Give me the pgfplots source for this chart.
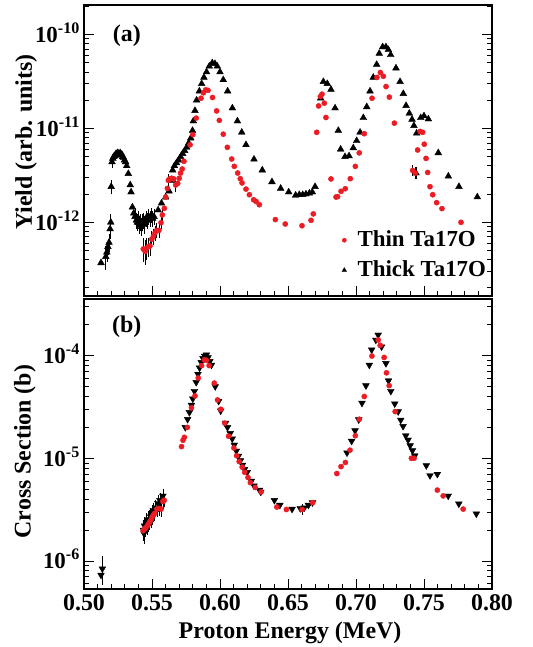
\documentclass[border=0pt]{standalone}
\usepackage{fontspec}
\setmainfont{Liberation Serif}
\usepackage{pgfplots}
\pgfplotsset{compat=1.18}
\definecolor{myred}{RGB}{236,28,36}
\begin{document}
\begin{tikzpicture}
% ---------------- panel (a) ----------------
\begin{axis}[scale only axis, width=408bp, height=291bp,
  at={(84bp,351bp)}, anchor=south west,
  xmin=0.5, xmax=0.8, ymode=log,
  ymin=1.64e-13, ymax=2.07e-10,
  axis line style={line width=1.5bp},
  major tick length=10bp, minor tick length=5bp,
  tick style={black, line width=0.9bp},
  xtick={0.5,0.55,0.6,0.65,0.7,0.75,0.8},
  minor x tick num=4,
  xtick pos=left, ytick pos=both, tick align=inside,
  ticklabel style={font=\fontsize{23}{23}\selectfont\bfseries, inner sep=1bp},
  yticklabel style={anchor=base east, yshift=-7.8bp, xshift=-3bp},
  ytick={1e-12,1e-11,1e-10},
  yticklabels={10\textsuperscript{-12},10\textsuperscript{-11},10\textsuperscript{-10}},
  minor ytick={2e-13,3e-13,4e-13,5e-13,6e-13,7e-13,8e-13,9e-13,2e-12,3e-12,4e-12,5e-12,6e-12,7e-12,8e-12,9e-12,2e-11,3e-11,4e-11,5e-11,6e-11,7e-11,8e-11,9e-11,2e-10},
  xticklabels={},
  ylabel={Yield (arb. units)},
  ylabel style={font=\fontsize{24}{24}\selectfont\bfseries, at={(axis description cs:-0.142,0.529)}, anchor=center, rotate=0},
  legend style={at={(rel axis cs:0.632,0.237)}, anchor=north west, draw=none, fill=none, inner sep=0pt,
    font=\fontsize{23}{23}\selectfont\bfseries, row sep=4bp, column sep=9bp,
    nodes={inner sep=2bp, text height=17bp, text depth=5bp}},
  legend cell align=left, reverse legend,
]
\addplot[only marks, mark=triangle*, mark size=3.9bp, color=black, mark options={fill=black},
  legend image post style={mark size=2.6bp}] coordinates {
(0.5125,3.7e-13)
(0.5212,4.8e-12)(0.5218,5.0e-12)(0.5224,5.1e-12)(0.5230,5.2e-12)(0.5236,5.4e-12)(0.5242,5.3e-12)
(0.5248,5.5e-12)(0.5254,5.4e-12)(0.5260,5.3e-12)(0.5266,5.5e-12)(0.5272,5.2e-12)(0.5278,5.3e-12)
(0.5284,5.0e-12)(0.5290,4.9e-12)(0.5298,4.6e-12)(0.5306,4.4e-12)(0.5314,4.0e-12)(0.5326,3.3e-12)
(0.5340,2.5e-12)(0.5346,2.1e-12)(0.5356,1.45e-12)(0.5366,1.25e-12)
(0.5545,1.35e-12)(0.5570,1.6e-12)(0.5600,1.85e-12)(0.5625,2.15e-12)(0.5645,2.8e-12)(0.5652,3.6e-12)
(0.5665,4.0e-12)(0.5680,4.3e-12)(0.5695,4.6e-12)(0.5710,5.0e-12)(0.5725,5.4e-12)(0.5740,5.8e-12)
(0.5755,6.3e-12)(0.5770,7.0e-12)(0.5785,7.9e-12)(0.5798,9.5e-12)(0.5804,1.2e-11)(0.5816,1.55e-11)
(0.5828,2.0e-11)(0.5848,2.5e-11)(0.5865,3.0e-11)(0.5882,3.5e-11)(0.5901,4.0e-11)(0.5921,4.6e-11)
(0.5943,5.0e-11)(0.5963,4.9e-11)(0.5980,4.6e-11)(0.6000,4.0e-11)(0.6024,3.3e-11)(0.6056,2.5e-11)
(0.6091,1.65e-11)(0.6128,1.2e-11)(0.6160,9.1e-12)(0.6191,6.7e-12)(0.6250,4.7e-12)(0.6311,3.6e-12)
(0.6382,2.7e-12)(0.6446,2.3e-12)(0.6505,2.1e-12)(0.6556,1.94e-12)(0.6583,1.97e-12)(0.6608,1.97e-12)
(0.6632,2.0e-12)(0.6657,2.04e-12)(0.6679,2.1e-12)(0.6699,2.4e-12)
(0.6740,2.1e-11)(0.6760,3.15e-11)(0.6789,3.0e-11)(0.6816,2.6e-11)(0.6846,1.65e-11)(0.6870,9.5e-12)
(0.6887,6.0e-12)(0.6919,5.0e-12)(0.6949,5.1e-12)(0.6980,6.2e-12)(0.7005,7.4e-12)(0.7030,9.1e-12)
(0.7054,1.3e-11)(0.7079,1.7e-11)(0.7103,2.5e-11)(0.7127,3.5e-11)(0.7152,4.8e-11)(0.7171,6.3e-11)
(0.7196,7.4e-11)(0.7220,7.4e-11)(0.7238,6.9e-11)(0.7255,6.1e-11)(0.7294,4.4e-11)(0.7324,3.15e-11)
(0.7348,2.35e-11)(0.7368,1.75e-11)(0.7392,1.45e-11)(0.7412,1.25e-11)(0.7426,1.07e-11)(0.7446,8.9e-12)
(0.7476,1.3e-11)(0.7500,1.36e-11)(0.7532,1.26e-11)(0.7605,5.5e-12)(0.7679,3.1e-12)(0.7757,2.4e-12)
(0.7892,1.86e-12)
};
\addlegendentry{Thick Ta17O}
\addplot[forget plot, only marks, mark=triangle*, mark size=3.9bp, color=black, mark options={fill=black},
  error bars/.cd, y dir=both, y explicit, error bar style={black, line width=0.6bp},
  error mark options={black, mark size=2.3bp, line width=0.6bp}] coordinates {
(0.5160,4.3e-13) +- (0,1.0e-13)
(0.5168,4.8e-13) +- (0,0.8e-13)
(0.5176,5.5e-13) +- (0,0.8e-13)
(0.5184,6.1e-13) +- (0,1.0e-13)
(0.5192,8.5e-13) +- (0,1.5e-13)
(0.5197,1.0e-12) +- (0,1.5e-13)
(0.5200,2.4e-12) +- (0,0.3e-12)
(0.5206,4.4e-12) +- (0,0.4e-12)
(0.5375,1.15e-12) +- (0,0.15e-12)
(0.5385,1.05e-12) +- (0,0.15e-12)
(0.5392,1.0e-12) +- (0,0.15e-12)
(0.5400,1.1e-12) +- (0,0.15e-12)
(0.5408,0.95e-12) +- (0,0.15e-12)
(0.5415,1.0e-12) +- (0,0.15e-12)
(0.5422,0.9e-12) +- (0,0.15e-12)
(0.5430,1.0e-12) +- (0,0.15e-12)
(0.5438,1.05e-12) +- (0,0.15e-12)
(0.5446,0.95e-12) +- (0,0.15e-12)
(0.5455,1.1e-12) +- (0,0.15e-12)
(0.5465,1.05e-12) +- (0,0.15e-12)
(0.5475,1.15e-12) +- (0,0.15e-12)
(0.5485,1.1e-12) +- (0,0.15e-12)
(0.5495,1.2e-12) +- (0,0.15e-12)
(0.5505,1.1e-12) +- (0,0.15e-12)
(0.5515,1.15e-12) +- (0,0.15e-12)
(0.7441,3.35e-12) +- (0,0.3e-12)
};
\addplot[only marks, mark=*, mark size=2.6bp, color=myred, mark options={draw=myred, fill=myred},
  legend image post style={mark size=2.1bp}] coordinates {
(0.5591,1.41e-12)(0.5601,1.86e-12)(0.5613,2.3e-12)(0.5630,2.9e-12)(0.5645,2.95e-12)(0.5660,2.9e-12)
(0.5689,2.6e-12)(0.5700,2.95e-12)(0.5710,3.35e-12)(0.5722,3.7e-12)(0.5735,4.47e-12)(0.5780,6.7e-12)
(0.5800,8.6e-12)(0.5825,1.29e-11)(0.5860,2.1e-11)(0.5878,2.4e-11)(0.5895,2.58e-11)(0.5912,2.55e-11)
(0.5945,2.14e-11)(0.5975,1.54e-11)(0.5995,1.22e-11)(0.6024,8.7e-12)(0.6054,6.3e-12)(0.6086,4.73e-12)
(0.6105,3.95e-12)(0.6130,3.35e-12)(0.6149,2.92e-12)(0.6162,2.63e-12)(0.6191,2.26e-12)(0.6216,1.97e-12)
(0.6247,1.74e-12)(0.6265,1.67e-12)(0.6289,1.54e-12)(0.6407,1.07e-12)(0.6480,9.6e-13)(0.6603,9.2e-13)
(0.6669,1.05e-12)(0.6686,1.23e-12)(0.6711,9.1e-12)(0.6725,1.74e-11)(0.6738,2.19e-11)(0.6750,2.32e-11)
(0.6767,1.86e-11)(0.6779,1.31e-11)(0.6816,2.9e-12)(0.6853,1.86e-12)(0.6865,1.88e-12)(0.6890,2.14e-12)
(0.6921,2.28e-12)(0.6958,2.92e-12)(0.6995,3.95e-12)(0.7024,5.5e-12)(0.7061,8.8e-12)(0.7118,2.1e-11)
(0.7154,3.5e-11)(0.7179,3.95e-11)(0.7201,3.6e-11)(0.7221,2.8e-11)(0.7245,2.16e-11)(0.7282,1.14e-11)
(0.7453,5.9e-12)(0.7471,9.3e-12)(0.7490,9.1e-12)(0.7502,6.8e-12)(0.7515,4.8e-12)(0.7527,3.4e-12)
(0.7544,2.4e-12)(0.7564,1.97e-12)(0.7593,1.62e-12)(0.7632,1.4e-12)(0.7772,1.0e-12)
};
\addlegendentry{Thin Ta17O}
\addplot[forget plot, only marks, mark=*, mark size=2.6bp, color=myred, mark options={draw=myred, fill=myred},
  error bars/.cd, y dir=both, y explicit, error bar style={black, line width=0.6bp},
  error mark options={black, mark size=2.3bp, line width=0.6bp}] coordinates {
(0.5436,5.2e-13) +- (0,1.2e-13)
(0.5450,4.9e-13) +- (0,1.2e-13)
(0.5461,5.3e-13) +- (0,1.1e-13)
(0.5472,5.5e-13) +- (0,1.0e-13)
(0.5485,5.6e-13) +- (0,1.0e-13)
(0.5498,6.6e-13) +- (0,1.0e-13)
(0.5510,7.1e-13) +- (0,1.0e-13)
(0.5522,7.7e-13) +- (0,1.0e-13)
(0.5534,8.2e-13) +- (0,1.0e-13)
(0.5551,8.2e-13) +- (0,1.0e-13)
(0.5566,9.9e-13) +- (0,1.0e-13)
(0.5576,1.2e-12) +- (0,1.0e-13)
(0.5620,2.8e-12) +- (0,0.3e-12)
(0.5674,2.5e-12) +- (0,0.3e-12)
(0.7416,3.57e-12) +- (0,0.3e-12)
(0.7436,3.35e-12) +- (0,0.3e-12)
};
\node[font=\fontsize{24}{24}\selectfont\bfseries] at (rel axis cs:0.105,0.893) {(a)};
\end{axis}
% ---------------- panel (b) ----------------
\begin{axis}[scale only axis, width=408bp, height=290bp,
  at={(84bp,58bp)}, anchor=south west,
  xmin=0.5, xmax=0.8, ymode=log,
  ymin=5.33e-7, ymax=3.56e-4,
  axis line style={line width=1.5bp},
  major tick length=10bp, minor tick length=5bp,
  tick style={black, line width=0.9bp},
  xtick={0.5,0.55,0.6,0.65,0.7,0.75,0.8},
  minor x tick num=4,
  xtick pos=left, ytick pos=both, tick align=inside,
  ticklabel style={font=\fontsize{23}{23}\selectfont\bfseries, inner sep=1bp},
  yticklabel style={anchor=base east, yshift=-7.8bp, xshift=-3bp},
  xticklabel style={font=\fontsize{24}{24}\selectfont\bfseries, yshift=-4bp},
  ytick={1e-6,1e-5,1e-4},
  yticklabels={10\textsuperscript{-6},10\textsuperscript{-5},10\textsuperscript{-4}},
  minor ytick={6e-7,7e-7,8e-7,9e-7,2e-6,3e-6,4e-6,5e-6,6e-6,7e-6,8e-6,9e-6,2e-5,3e-5,4e-5,5e-5,6e-5,7e-5,8e-5,9e-5,2e-4,3e-4},
  xticklabels={0.50,0.55,0.60,0.65,0.70,0.75,0.80},
  xlabel={Proton Energy (MeV)},
  xlabel style={font=\fontsize{24}{24}\selectfont\bfseries, at={(axis description cs:0.505,-0.170)}, anchor=base},
  ylabel={Cross Section (b)},
  ylabel style={font=\fontsize{24}{24}\selectfont\bfseries, at={(axis description cs:-0.145,0.474)}, anchor=center, rotate=0},
]
\addplot[only marks, mark=triangle*, mark size=3.9bp, color=black, mark options={fill=black, rotate=180}] coordinates {
(0.5125,7.3e-7)
(0.5745,2.0e-5)(0.5762,2.4e-5)(0.5775,2.8e-5)(0.5790,3.3e-5)(0.5800,3.8e-5)(0.5812,4.5e-5)
(0.5825,5.5e-5)(0.5838,6.6e-5)(0.5850,7.6e-5)(0.5862,8.6e-5)(0.5875,9.4e-5)(0.5888,9.9e-5)
(0.5900,1.02e-4)(0.5912,9.6e-5)(0.5925,8.8e-5)(0.5937,8.1e-5)(0.5965,5.0e-5)(0.5990,3.6e-5)
(0.6005,2.9e-5)(0.6040,2.2e-5)(0.6055,2.0e-5)(0.6075,1.75e-5)(0.6090,1.55e-5)(0.6105,1.35e-5)
(0.6120,1.18e-5)(0.6135,1.05e-5)(0.6150,9.5e-6)(0.6165,8.6e-6)(0.6180,7.8e-6)(0.6200,7.3e-6)
(0.6230,6.0e-6)(0.6250,5.4e-6)(0.6290,4.9e-6)(0.6300,4.7e-6)(0.6400,3.9e-6)(0.6440,3.5e-6)
(0.6530,3.2e-6)(0.6590,3.25e-6)(0.6620,3.3e-6)(0.6650,3.5e-6)(0.6680,3.7e-6)
(0.6934,1.13e-5)(0.6968,1.47e-5)(0.6993,1.86e-5)(0.7020,2.38e-5)(0.7044,3.45e-5)(0.7073,5.1e-5)
(0.7098,8.1e-5)(0.7115,1.14e-4)(0.7146,1.42e-4)(0.7163,1.59e-4)(0.7188,1.22e-4)(0.7220,8.4e-5)
(0.7239,5.7e-5)(0.7256,4.5e-5)(0.7285,3.4e-5)(0.7310,2.85e-5)(0.7329,2.36e-5)(0.7346,2.05e-5)
(0.7366,1.66e-5)(0.7383,1.51e-5)(0.7398,1.33e-5)(0.7415,1.19e-5)(0.7432,1.06e-5)(0.7517,8.5e-6)
(0.7544,6.8e-6)(0.7598,7.0e-6)(0.7678,4.3e-6)(0.7756,3.6e-6)(0.7885,2.88e-6)
};
\addplot[forget plot, only marks, mark=triangle*, mark size=3.9bp, color=black, mark options={fill=black, rotate=180},
  error bars/.cd, y dir=both, y explicit, error bar style={black, line width=0.6bp},
  error mark options={black, mark size=2.3bp, line width=0.6bp}] coordinates {
(0.5135,8.4e-7) +- (0,2.2e-7)
(0.5437,2.0e-6) +- (0,0.35e-6)
(0.5441,1.85e-6) +- (0,0.3e-6)
(0.5445,2.2e-6) +- (0,0.35e-6)
(0.5459,2.38e-6) +- (0,0.4e-6)
(0.5470,2.5e-6) +- (0,0.4e-6)
(0.5478,2.55e-6) +- (0,0.4e-6)
(0.5490,2.7e-6) +- (0,0.4e-6)
(0.5500,2.9e-6) +- (0,0.4e-6)
(0.5510,3.1e-6) +- (0,0.4e-6)
(0.5527,3.3e-6) +- (0,0.45e-6)
(0.5543,3.65e-6) +- (0,0.5e-6)
(0.5558,3.9e-6) +- (0,0.5e-6)
(0.5580,4.3e-6) +- (0,0.5e-6)
};
\addplot[only marks, mark=*, mark size=2.6bp, color=myred, mark options={draw=myred, fill=myred}] coordinates {
(0.5717,1.3e-5)(0.5728,1.5e-5)(0.5738,1.6e-5)(0.5760,2.0e-5)(0.5790,3.1e-5)(0.5816,4.05e-5)
(0.5840,6.05e-5)(0.5865,8.0e-5)(0.5885,9.1e-5)(0.5900,9.0e-5)(0.5920,8.0e-5)(0.5958,5.4e-5)
(0.5982,3.7e-5)(0.6005,3.0e-5)(0.6035,2.2e-5)(0.6063,1.64e-5)(0.6102,1.26e-5)(0.6122,1.06e-5)
(0.6141,9.3e-6)(0.6163,8.2e-6)(0.6182,7.3e-6)(0.6206,6.5e-6)(0.6223,5.8e-6)(0.6259,5.2e-6)
(0.6302,4.7e-6)(0.6418,3.35e-6)(0.6488,3.17e-6)(0.6681,3.7e-6)
(0.6859,7.1e-6)(0.6890,8.3e-6)(0.6922,9.1e-6)(0.6956,1.2e-5)(0.6995,1.66e-5)(0.7024,2.4e-5)
(0.7061,4.0e-5)(0.7117,9.9e-5)(0.7163,1.42e-4)(0.7178,1.26e-4)(0.7207,9.6e-5)(0.7224,6.8e-5)
(0.7244,5.1e-5)(0.7288,2.85e-5)(0.7407,1.0e-5)(0.7427,1.0e-5)(0.7598,4.9e-6)(0.7641,4.3e-6)
(0.7788,3.2e-6)
};
\addplot[forget plot, only marks, mark=*, mark size=2.6bp, color=myred, mark options={draw=myred, fill=myred},
  error bars/.cd, y dir=both, y explicit, error bar style={black, line width=0.6bp},
  error mark options={black, mark size=2.3bp, line width=0.6bp}] coordinates {
(0.5435,1.97e-6) +- (0,0.3e-6)
(0.5445,2.05e-6) +- (0,0.3e-6)
(0.5454,2.1e-6) +- (0,0.3e-6)
(0.5465,2.2e-6) +- (0,0.3e-6)
(0.5475,2.3e-6) +- (0,0.3e-6)
(0.5483,2.4e-6) +- (0,0.3e-6)
(0.5492,2.5e-6) +- (0,0.3e-6)
(0.5500,2.66e-6) +- (0,0.3e-6)
(0.5510,2.8e-6) +- (0,0.3e-6)
(0.5519,2.9e-6) +- (0,0.3e-6)
(0.5536,3.2e-6) +- (0,0.35e-6)
(0.5550,3.25e-6) +- (0,0.35e-6)
(0.5567,3.2e-6) +- (0,0.35e-6)
(0.5580,3.8e-6) +- (0,0.4e-6)
(0.5590,3.9e-6) +- (0,0.4e-6)
(0.6604,3.17e-6) +- (0,0.2e-6)
};
\node[font=\fontsize{24}{24}\selectfont\bfseries] at (rel axis cs:0.105,0.903) {(b)};
\end{axis}
\pgfresetboundingbox
\path[use as bounding box] (0,0) rectangle (533bp,647bp);
\end{tikzpicture}
\end{document}
